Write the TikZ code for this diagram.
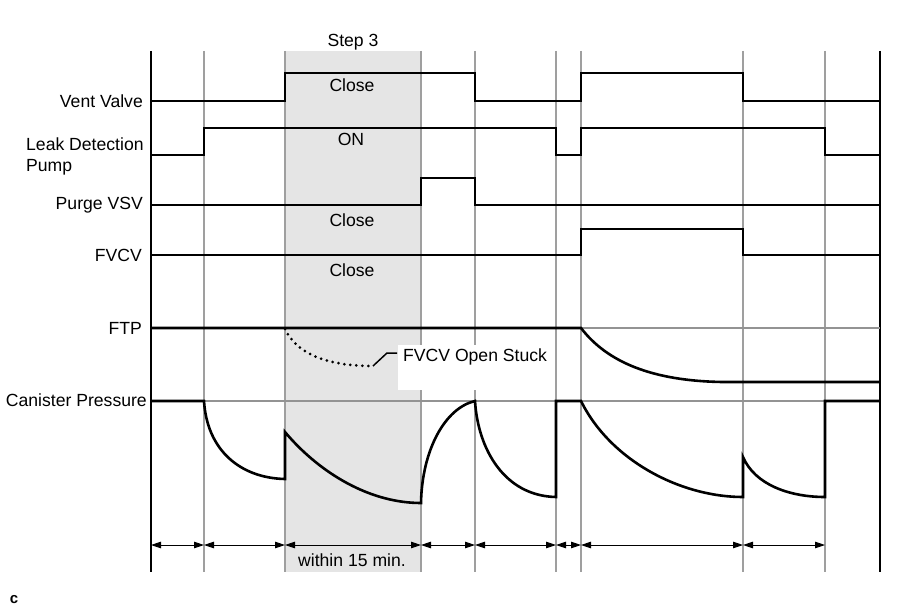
\documentclass[tikz,border=0pt]{standalone}
\usepackage{fontspec}
\setmainfont{Liberation Sans}
\usetikzlibrary{arrows.meta}
\begin{document}
\begin{tikzpicture}[x=1pt,y=-1pt,
  font=\fontsize{17.6}{21}\selectfont,
  gridline/.style={draw=gray!75, line width=1.2pt},
  axisline/.style={draw=black, line width=2pt},
  refline/.style={draw=gray!85, line width=1.2pt},
  sig/.style={draw=black, line width=2.6pt, line join=miter},
  dim/.style={draw=black, line width=0.9pt, {Triangle[length=10pt,width=6.5pt]}-{Triangle[length=10pt,width=6.5pt]}},
  lbl/.style={inner sep=0pt},
  shade/.style={fill=gray!20, draw=none}]
\useasboundingbox (0,0) rectangle (907,610);
% shaded step 3 region
\path[shade] (285,51) rectangle (421,572);
% grid verticals
\foreach \gx in {204,285,421,475,556,581,743,825}
  \draw[gridline] (\gx,51) -- (\gx,572);
\draw[axisline] (151,51) -- (151,572);
\draw[axisline] (880,51) -- (880,572);
% reference horizontals
\draw[refline] (151,328) -- (880,328);
\draw[refline] (151,401) -- (880,401);
% white label box
\fill[white] (398,345) rectangle (555,390);
% signals
\draw[sig] (151,101) -- (285,101) -- (285,73) -- (475,73) -- (475,101) -- (581,101) -- (581,73) -- (743,73) -- (743,101) -- (880,101);
\draw[sig] (151,155) -- (204,155) -- (204,128) -- (556,128) -- (556,155) -- (581,155) -- (581,128) -- (825,128) -- (825,155) -- (880,155);
\draw[sig] (151,205) -- (421,205) -- (421,178) -- (475,178) -- (475,205) -- (880,205);
\draw[sig] (151,255) -- (581,255) -- (581,229) -- (743,229) -- (743,255) -- (880,255);
\draw[sig] (151,328) -- (581,328) .. controls (607,362) and (652,381) .. (723,382) -- (880,382);
\draw[sig] (151,401) -- (204,401) .. controls (207,450) and (240,478) .. (285,479) -- (285,432)
  .. controls (315,468) and (365,503) .. (421,503)
  .. controls (422,450) and (445,408) .. (475,401)
  .. controls (478,450) and (505,496) .. (556,497) -- (556,401) -- (581,401)
  .. controls (610,460) and (680,497) .. (743,497) -- (743,457)
  .. controls (755,485) and (790,497) .. (825,497) -- (825,401) -- (880,401);
% FVCV open stuck dotted curve
\coordinate (ds) at (285,329);
\coordinate (de) at (373,366);
\draw[black, line width=3pt, line cap=round, dash pattern=on 0pt off 6pt] (ds) .. controls (295,350) and (320,366) .. (de);
\node[lbl, anchor=west] (stuck) at (403,357) {FVCV Open Stuck};
\coordinate (lk) at (387,353);
\coordinate (lk2) at (397,353);
\draw[black, line width=1.5pt] (de) -- (lk) -- (lk2);
% left labels
\node[lbl, anchor=east] (vv) at (143,101) {Vent Valve};
\node[lbl, anchor=west, align=left] (ldp) at (26,156.5) {Leak Detection\\Pump};
\node[lbl, anchor=east] (pv) at (143,205) {Purge VSV};
\node[lbl, anchor=east] (fv) at (142,255) {FVCV};
\node[lbl, anchor=east] (ftp) at (142,328) {FTP};
\node[lbl, anchor=east] (cp) at (147,400) {Canister Pressure};
% in-chart labels
\node[lbl] (step) at (353,42) {Step 3};
\node[lbl] (c1) at (352,85) {Close};
\node[lbl] (on) at (351,139) {ON};
\node[lbl] (c2) at (352,220) {Close};
\node[lbl] (c3) at (352,270) {Close};
\node[lbl] (w15) at (352,560) {within 15 min.};
\node[lbl, font=\fontsize{15}{17}\selectfont\bfseries] (cc) at (14,600) {c};
% dimension arrows
\foreach \i/\dx in {0/151,1/204,2/285,3/421,4/475,5/556,6/581,7/743,8/825}
  \coordinate (d\i) at (\dx,545);
\foreach \a/\b in {0/1,1/2,2/3,3/4,4/5,5/6,6/7,7/8}
  \draw[dim] (d\a) -- (d\b);
\end{tikzpicture}
\end{document}
